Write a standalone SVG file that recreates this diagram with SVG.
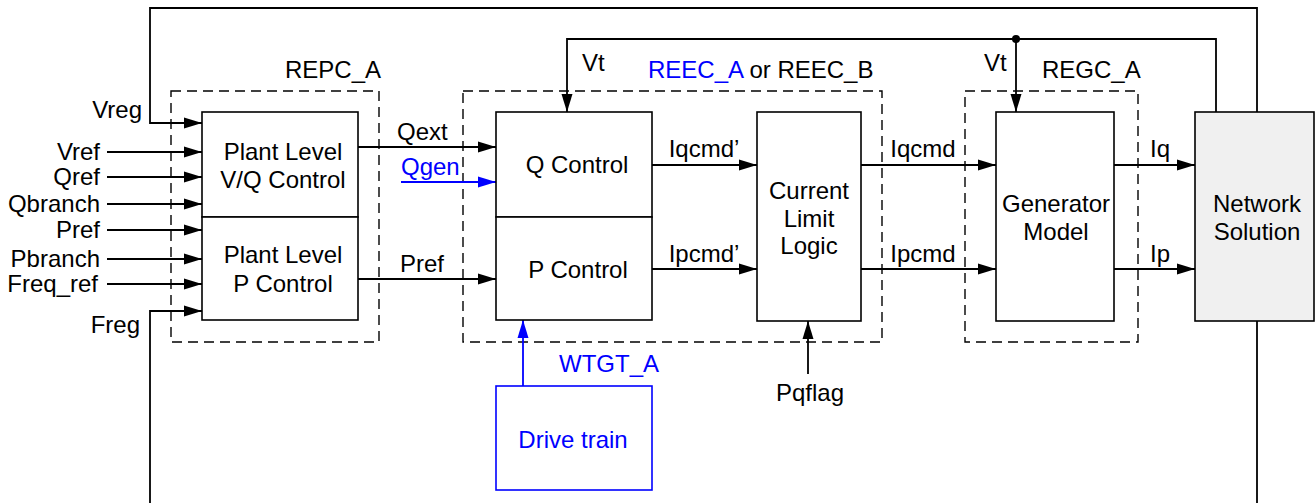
<svg xmlns="http://www.w3.org/2000/svg" width="1316" height="503" viewBox="0 0 1316 503">
<style>
text{font-family:"Liberation Sans",Arial,sans-serif;font-size:24px;fill:#000}
.blue{fill:#0000ff}
.box{fill:#fff;stroke:#000;stroke-width:1.6}
.dash{fill:none;stroke:#000;stroke-width:1.4;stroke-dasharray:10 6}
.w{fill:none;stroke:#000;stroke-width:1.8}
.wb{fill:none;stroke:#0000ff;stroke-width:1.8}
.m{text-anchor:middle}
.e{text-anchor:end}
</style>
<defs>
<marker id="ah" markerUnits="userSpaceOnUse" markerWidth="19" markerHeight="12" refX="18" refY="6" orient="auto"><path d="M0,0.5 L18,6 L0,11.5 z" fill="#000"/></marker>
<marker id="ahb" markerUnits="userSpaceOnUse" markerWidth="19" markerHeight="12" refX="18" refY="6" orient="auto"><path d="M0,0.5 L18,6 L0,11.5 z" fill="#0000ff"/></marker>
</defs>

<g id="groups">
<rect class="dash" x="171" y="91" width="208" height="251"/>
<text x="285" y="78">REPC_A</text>
<rect class="dash" x="463" y="91" width="419" height="251"/>
<text x="648" y="78"><tspan class="blue">REEC_A</tspan> or REEC_B</text>
<rect class="dash" x="965" y="91" width="173" height="251"/>
<text x="1042" y="78">REGC_A</text>
</g>

<g id="connectors">
<path class="w" d="M1257,112 V8 H150 V123 H202" marker-end="url(#ah)"/>
<path class="w" d="M150,503 V311 H202" marker-end="url(#ah)"/>
<path class="w" d="M1257,321 V503"/>
<path class="w" d="M1216,112 V39 H567 V112" marker-end="url(#ah)"/>
<path class="w" d="M1016,39 V112" marker-end="url(#ah)"/>
<circle cx="1016" cy="39" r="4" fill="#000"/>
<path class="w" d="M107,152 H202" marker-end="url(#ah)"/>
<path class="w" d="M107,177 H202" marker-end="url(#ah)"/>
<path class="w" d="M107,204 H202" marker-end="url(#ah)"/>
<path class="w" d="M107,230 H202" marker-end="url(#ah)"/>
<path class="w" d="M107,259 H202" marker-end="url(#ah)"/>
<path class="w" d="M107,284 H202" marker-end="url(#ah)"/>
<path class="w" d="M358,147 H496" marker-end="url(#ah)"/>
<path class="wb" d="M401,182 H496" marker-end="url(#ahb)"/>
<path class="w" d="M358,279 H496" marker-end="url(#ah)"/>
<path class="w" d="M652,165 H757" marker-end="url(#ah)"/>
<path class="w" d="M652,269 H757" marker-end="url(#ah)"/>
<path class="w" d="M861,165 H996" marker-end="url(#ah)"/>
<path class="w" d="M861,269 H996" marker-end="url(#ah)"/>
<path class="w" d="M1114,165 H1195" marker-end="url(#ah)"/>
<path class="w" d="M1114,269 H1195" marker-end="url(#ah)"/>
<path class="w" d="M808,374 V321" marker-end="url(#ah)"/>
<path class="wb" d="M523,386 V320" marker-end="url(#ahb)"/>
</g>

<g id="labels">
<text class="e" x="142" y="118">Vreg</text>
<text class="e" x="100" y="160">Vref</text>
<text class="e" x="100" y="185">Qref</text>
<text class="e" x="100" y="212">Qbranch</text>
<text class="e" x="100" y="238">Pref</text>
<text class="e" x="100" y="267">Pbranch</text>
<text class="e" x="98" y="292">Freq_ref</text>
<text class="e" x="140" y="333">Freg</text>
<text x="397" y="140">Qext</text>
<text class="blue" x="401" y="175">Qgen</text>
<text x="400" y="272">Pref</text>
<text class="m" x="704" y="157">Iqcmd’</text>
<text class="m" x="704" y="262">Ipcmd’</text>
<text class="m" x="923" y="157">Iqcmd</text>
<text class="m" x="923" y="262">Ipcmd</text>
<text class="m" x="1160" y="157">Iq</text>
<text class="m" x="1160" y="262">Ip</text>
<text x="582" y="71">Vt</text>
<text x="984" y="71">Vt</text>
<text class="blue" x="559" y="372">WTGT_A</text>
<text class="m" x="810" y="401">Pqflag</text>
</g>

<g id="plant-vq">
<rect class="box" x="202" y="112" width="156" height="105"/>
<text class="m" x="283" y="160">Plant Level</text>
<text class="m" x="283" y="188">V/Q Control</text>
</g>
<g id="plant-p">
<rect class="box" x="202" y="217" width="156" height="103"/>
<text class="m" x="283" y="263">Plant Level</text>
<text class="m" x="283" y="292">P Control</text>
</g>
<g id="q-control">
<rect class="box" x="496" y="112" width="156" height="105"/>
<text class="m" x="577" y="173">Q Control</text>
</g>
<g id="p-control">
<rect class="box" x="496" y="217" width="156" height="103"/>
<text class="m" x="578" y="278">P Control</text>
</g>
<g id="current-limit">
<rect class="box" x="757" y="112" width="104" height="209"/>
<text class="m" x="809" y="199">Current</text>
<text class="m" x="809" y="227">Limit</text>
<text class="m" x="809" y="254">Logic</text>
</g>
<g id="generator">
<rect class="box" x="996" y="112" width="118" height="209"/>
<text class="m" x="1056" y="212">Generator</text>
<text class="m" x="1056" y="240">Model</text>
</g>
<g id="network">
<rect class="box" x="1195" y="112" width="119" height="209" style="fill:#f0f0f0"/>
<text class="m" x="1257" y="212">Network</text>
<text class="m" x="1257" y="240">Solution</text>
</g>
<g id="drive-train">
<rect x="496" y="386" width="156" height="104" fill="#fff" stroke="#0000ff" stroke-width="1.6"/>
<text class="m blue" x="573" y="448">Drive train</text>
</g>
</svg>
